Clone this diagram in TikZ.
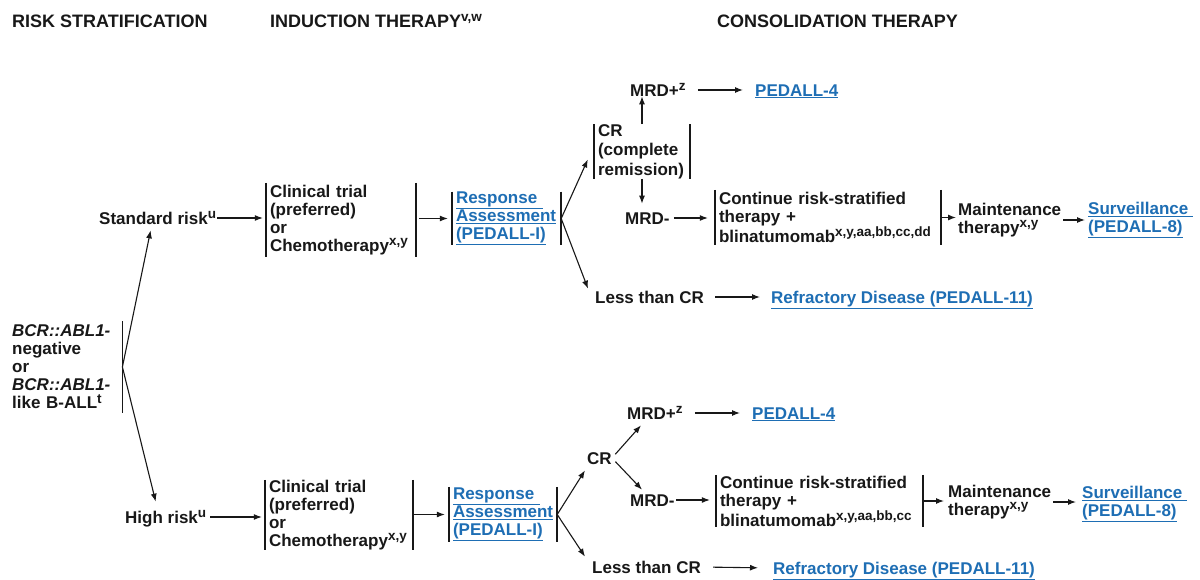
\documentclass[tikz,border=0pt]{standalone}
\usepackage{fontspec}
\setmainfont{Liberation Sans}
\usetikzlibrary{arrows.meta,calc}
\definecolor{ink}{RGB}{24,24,24}
\definecolor{linkblue}{RGB}{30,110,180}
\newcommand\sups[1]{\raisebox{0.34em}{\fontsize{13.5}{13.5}\selectfont#1}}
\newcommand\lnk[1]{\underline{#1}}

\begin{document}
\begin{tikzpicture}[x=1pt,y=-1pt,
  every node/.style={inner sep=0pt, text=ink, font=\bfseries\fontsize{17}{18}\selectfont},
  head/.style={anchor=west, text height=13pt, text depth=0pt, font=\bfseries\fontsize{18}{20}\selectfont},
  lbl/.style={anchor=west, text height=12.3pt, text depth=0pt},
  multi/.style={anchor=west, align=left},
  link/.style={text=linkblue},
  bar/.style={draw=ink, line width=1.5pt},
  brk/.style={align=left, inner xsep=4pt, text width=#1,
    append after command={(\tikzlastnode.north west) edge[bar] (\tikzlastnode.south west)
                          (\tikzlastnode.north east) edge[bar] (\tikzlastnode.south east)}},
  rbrk/.style={append after command={(\tikzlastnode.north east) edge[bar] (\tikzlastnode.south east)}},
  arr/.style={draw=ink, line width=1.1pt, -{Latex[length=8pt,width=6pt]}},
]
\fill[white] (0,0) rectangle (1200,580);
\useasboundingbox (0,0) rectangle (1200,580);

% column headings
\node[head] (hRisk) at (12,21) {RISK STRATIFICATION};
\node[head] (hInd)  at (270,21) {INDUCTION THERAPY\sups{v,w}};
\node[head] (hCons) at (717,21) {CONSOLIDATION THERAPY};

% risk stratification
\node[multi, rbrk, text width=110pt, minimum height=91pt] (bcr) at (12,367)
  {\textit{BCR::ABL1-}\\negative\\or\\\textit{BCR::ABL1-}\\like B-ALL\sups{t}};
\node[lbl] (std) at (99,218) {Standard risk\sups{u}};
\node[lbl] (hr)  at (125,517) {High risk\sups{u}};

% standard risk branch
\node[brk=142pt, minimum height=74pt] (clin1) at (341,220)
  {Clinical trial\\(preferred)\\or\\Chemotherapy\sups{x,y}};
\node[brk=101pt, minimum height=53pt, link] (resp1) at (506.5,218.5)
  {\lnk{Response\ }\\\lnk{Assessment}\\\lnk{(PEDALL-I)}};
\node[brk=88pt, minimum height=53pt, font=\bfseries\fontsize{17}{19.5}\selectfont] (cr1) at (642,151.5)
  {CR\\(complete\\remission)};
\node[lbl] (mrdp1) at (630,90) {MRD+\sups{z}};
\node[lbl, link] (ped1) at (755,90) {\lnk{PEDALL-4}};
\node[lbl] (mrdn1) at (625,218) {MRD-};
\node[brk=218pt, minimum height=55pt] (cont1) at (828,217.5)
  {Continue risk-stratified\\therapy +\\blinatumomab\sups{x,y,aa,bb,cc,dd}};
\node[multi] (maint1) at (958,220) {Maintenance\\therapy\sups{x,y}};
\node[multi, link] (surv1) at (1088,220) {\lnk{Surveillance\ }\\\lnk{(PEDALL-8)}};
\node[lbl] (less1) at (595,297) {Less than CR};
\node[lbl, link] (refr1) at (771,297) {\lnk{Refractory Disease (PEDALL-11)}};

% high risk branch
\node[brk=140pt, minimum height=70pt] (clin2) at (339,515)
  {Clinical trial\\(preferred)\\or\\Chemotherapy\sups{x,y}};
\node[brk=100pt, minimum height=55pt, link] (resp2) at (503,514.5)
  {\lnk{Response\ }\\\lnk{Assessment}\\\lnk{(PEDALL-I)}};
\node[lbl] (cr2) at (587,458) {CR};
\node[lbl] (mrdp2) at (627,413) {MRD+\sups{z}};
\node[lbl, link] (ped2) at (752,413) {\lnk{PEDALL-4}};
\node[lbl] (mrdn2) at (630,500) {MRD-};
\node[brk=199pt, minimum height=52pt] (cont2) at (819.5,501)
  {Continue risk-stratified\\therapy +\\blinatumomab\sups{x,y,aa,bb,cc}};
\node[multi] (maint2) at (948,502) {Maintenance\\therapy\sups{x,y}};
\node[multi, link] (surv2) at (1082,504) {\lnk{Surveillance\ }\\\lnk{(PEDALL-8)}};
\node[lbl] (less2) at (592,567) {Less than CR};
\node[lbl, link] (refr2) at (773,568) {\lnk{Refractory Disease (PEDALL-11)}};

% connectors: stratification
\draw[arr] (bcr.east) -- ([xshift=-7pt,yshift=-6pt]std.south);
\draw[arr] (bcr.east) -- ([xshift=-10pt,yshift=9pt]hr.north);
\draw[arr, shorten <=1pt, shorten >=3pt] (std.east) -- (std.east -| clin1.west);
\draw[arr, shorten <=4pt, shorten >=3pt] (hr.east) -- (hr.east -| clin2.west);

% connectors: standard risk
\draw[arr, shorten <=3pt, shorten >=4pt] (clin1.east |- resp1.west) -- (resp1.west);
\draw[arr] (resp1.east) -- ([xshift=-6pt,yshift=-8pt]cr1.west);
\draw[arr] (resp1.east) -- ([xshift=-7pt,yshift=2pt]less1.north west);
\draw[arr] (cr1.north) -- (cr1.north |- mrdp1.south);
\draw[arr, shorten <=12pt, shorten >=12pt] (mrdp1.east) -- (ped1.west);
\draw[arr, shorten >=8pt] (cr1.south) -- (cr1.south |- mrdn1.north);
\draw[arr, shorten <=4pt, shorten >=7pt] (mrdn1.east) -- (mrdn1.east -| cont1.west);
\draw[arr, shorten >=2pt] (cont1.east) -- (cont1.east -| maint1.west);
\draw[arr, shorten <=2pt, shorten >=3pt] (maint1.east) -- (maint1.east -| surv1.west);
\draw[arr, shorten <=11pt, shorten >=11pt] (less1.east) -- (refr1.west);

% connectors: high risk
\draw[arr, shorten <=1pt, shorten >=4pt] (clin2.east |- resp2.west) -- (resp2.west);
\draw[arr] (resp2.east) -- ([xshift=-2pt,yshift=-6pt]cr2.south west);
\draw[arr] (resp2.east) -- ([xshift=-7pt,yshift=4pt]less2.north west);
\draw[arr, shorten <=5pt] (cr2.east) -- ([xshift=14pt,yshift=-6pt]mrdp2.south west);
\draw[arr, shorten <=5pt] (cr2.east) -- ([xshift=12pt,yshift=4pt]mrdn2.north west);
\draw[arr, shorten <=12pt, shorten >=12pt] (mrdp2.east) -- (ped2.west);
\draw[arr, shorten <=1pt, shorten >=6pt] (mrdn2.east) -- (mrdn2.east -| cont2.west);
\draw[arr, shorten >=4pt] (cont2.east) -- (cont2.east -| maint2.west);
\draw[arr, shorten <=2pt, shorten >=6pt] (maint2.east) -- (maint2.east -| surv2.west);
\draw[arr, shorten <=12pt, shorten >=15pt] (less2.east) -- (refr2.west);
\end{tikzpicture}
\end{document}
